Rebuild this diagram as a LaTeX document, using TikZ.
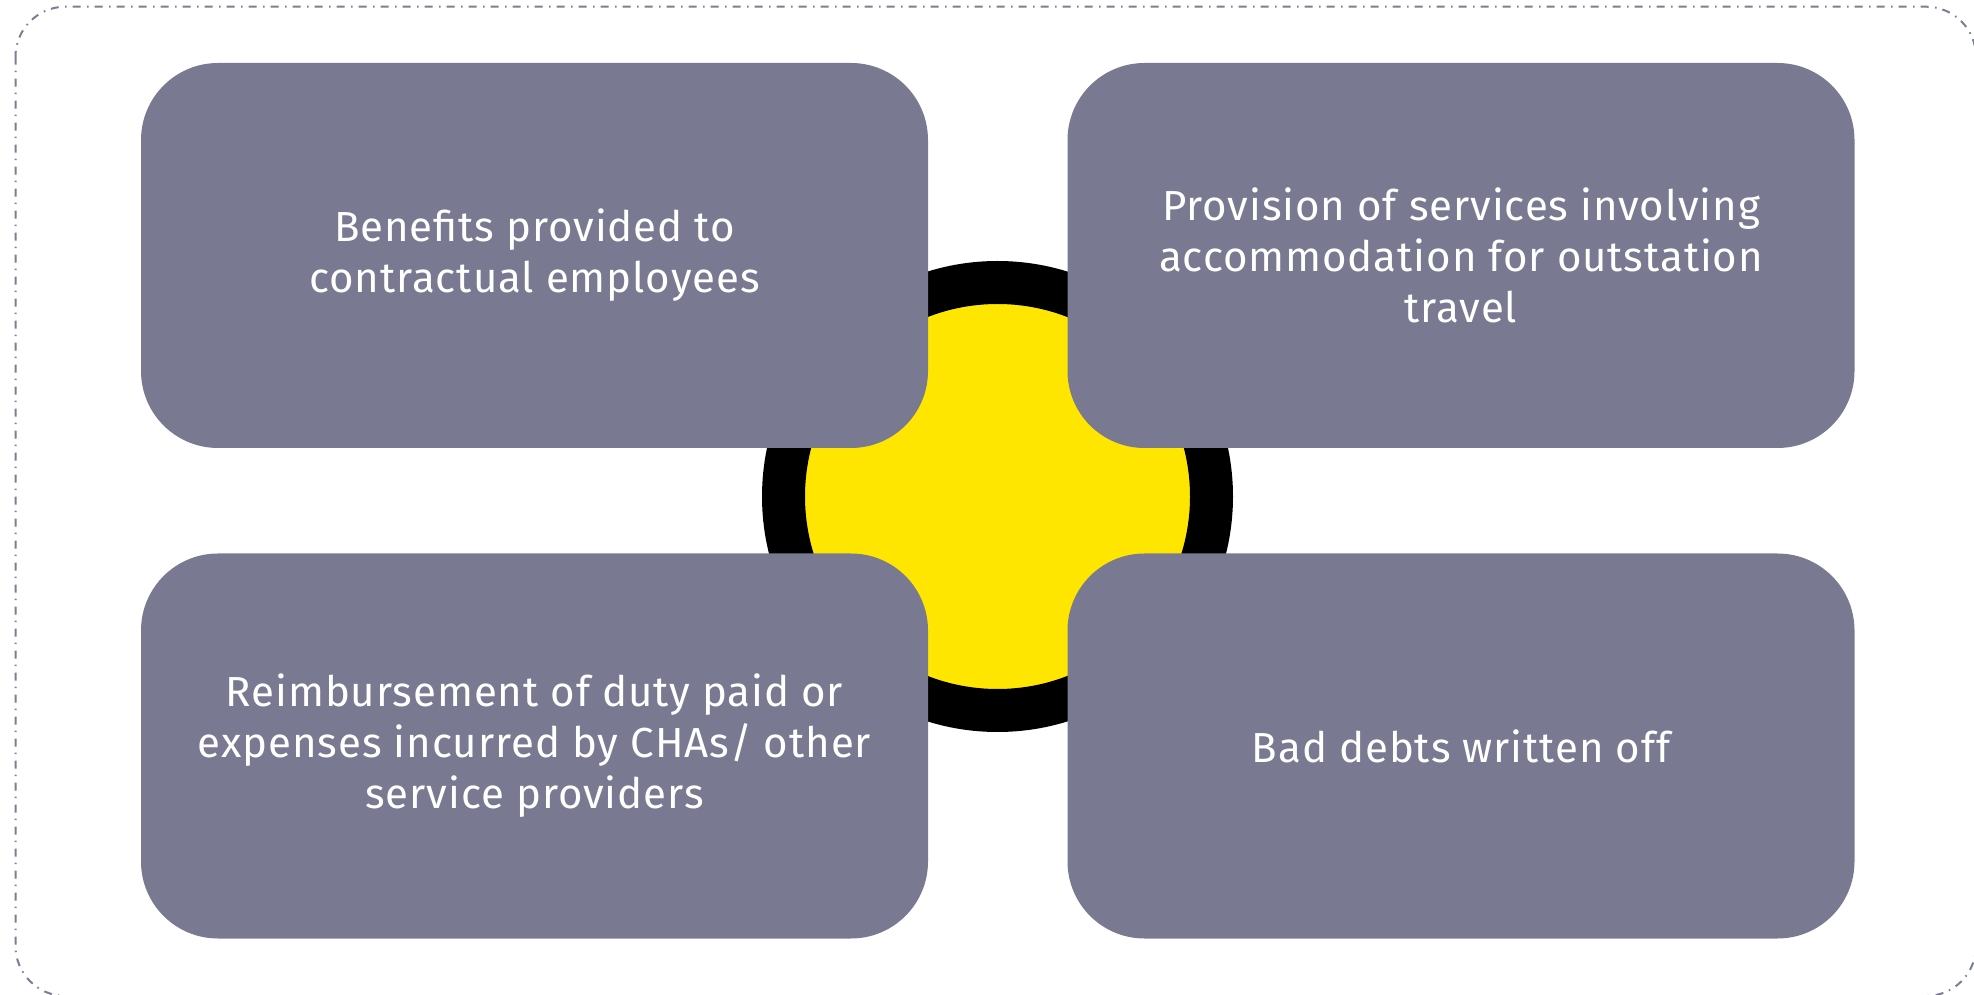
\documentclass[tikz,border=0pt]{standalone}
\usepackage{fontspec}
\setmainfont[LetterSpace=2.2]{Fira Sans}
\usepackage{tikz}
\usetikzlibrary{shapes.geometric, positioning}

\definecolor{slate}{RGB}{121,121,145}
\definecolor{framegrey}{RGB}{125,125,148}
\definecolor{eyyellow}{RGB}{255,230,0}

\tikzstyle{topic} = [
    rectangle,
    rounded corners=77pt,
    minimum width=787pt,
    minimum height=385pt,
    fill=slate,
    text=white,
    align=center,
    font=\fontsize{42}{51}\selectfont
]
\tikzstyle{hub} = [
    circle,
    minimum size=428pt,
    fill=eyyellow,
    draw=black,
    line width=43pt
]
\tikzstyle{frame} = [
    draw=framegrey,
    line width=2pt,
    rounded corners=50pt,
    dash pattern=on 8pt off 6pt on 1.5pt off 6.5pt
]

\begin{document}
\begin{tikzpicture}[x=1pt, y=1pt, node distance=490.5pt]
\useasboundingbox (0,0) rectangle (1974,994);

\draw [frame] (15.5,987.3) rectangle (1976,-2);

\node (hub) [hub] at (997.5,497.5) {};

\node (benefits) [topic] at (534.5,738.5)
{Benefits provided to\\contractual employees};

\node (accommodation) [topic, right of=benefits, xshift=436pt]
{Provision of services involving\\accommodation for outstation\\travel};

\node (reimbursement) [topic, below of=benefits]
{Reimbursement of duty paid or\\expenses incurred by CHAs/ other\\service providers};

\node (baddebts) [topic, below of=accommodation]
{Bad debts written off};

\end{tikzpicture}
\end{document}
